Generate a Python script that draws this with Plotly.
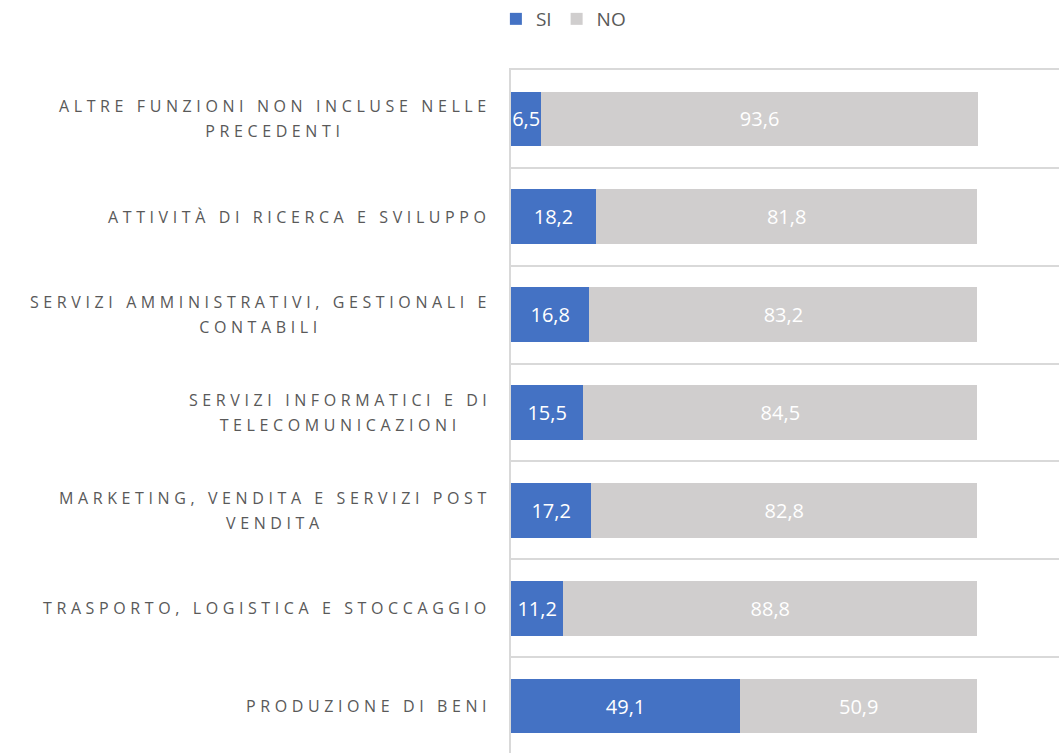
"""Funzioni esternalizzate: quota SI / NO per area aziendale."""

import plotly.graph_objects as go

# categories from bottom to top, as drawn on the chart
CATEGORIES = [
    "PRODUZIONE DI BENI",
    "TRASPORTO, LOGISTICA E STOCCAGGIO",
    "MARKETING, VENDITA E SERVIZI POST VENDITA",
    "SERVIZI INFORMATICI E DI TELECOMUNICAZIONI",
    "SERVIZI AMMINISTRATIVI, GESTIONALI E CONTABILI",
    "ATTIVITÀ DI RICERCA E SVILUPPO",
    "ALTRE FUNZIONI NON INCLUSE NELLE PRECEDENTI",
]
# wrapped versions of the labels, as shown on the axis
LABEL_LINES = [
    ["PRODUZIONE DI BENI"],
    ["TRASPORTO, LOGISTICA E STOCCAGGIO"],
    ["MARKETING, VENDITA E SERVIZI POST", "VENDITA"],
    ["SERVIZI INFORMATICI E DI", "TELECOMUNICAZIONI"],
    ["SERVIZI AMMINISTRATIVI, GESTIONALI E", "CONTABILI"],
    ["ATTIVITÀ DI RICERCA E SVILUPPO"],
    ["ALTRE FUNZIONI NON INCLUSE NELLE", "PRECEDENTI"],
]
SI_VALUES = [49.1, 11.2, 17.2, 15.5, 16.8, 18.2, 6.5]
NO_VALUES = [50.9, 88.8, 82.8, 84.5, 83.2, 81.8, 93.6]

SI_COLOR = "#4472C4"
NO_COLOR = "#D0CECE"
TEXT_COLOR = "#595959"
GRID_COLOR = "#D9D9D9"
FONT = "Open Sans"

fig = go.Figure()
for name, values, color in [("SI", SI_VALUES, SI_COLOR), ("NO", NO_VALUES, NO_COLOR)]:
    fig.add_trace(
        go.Bar(
            y=CATEGORIES,
            x=values,
            name=name,
            orientation="h",
            marker={"color": color, "line": {"width": 0}},
            width=0.56,
            texttemplate="%{x:.1f}",
            textposition="inside",
            insidetextanchor="middle",
            textangle=0,
            constraintext="none",
            textfont={"family": FONT, "size": 20, "color": "white"},
        )
    )

# category labels: letter-spaced, multi-line labels centred
# (outer font size sets the line pitch, inner span the glyph size)
for category, lines in zip(CATEGORIES, LABEL_LINES):
    text = "<br>".join(
        f'<span style="font-size:16px;letter-spacing:4.6px">{line}</span>' for line in lines
    )
    fig.add_annotation(
        x=0,
        xref="paper",
        y=category,
        yref="y",
        text=text,
        showarrow=False,
        xanchor="right",
        yanchor="middle",
        align="center",
        xshift=-18,
        font={"family": FONT, "size": 19, "color": TEXT_COLOR},
    )

fig.update_layout(
    width=1059,
    height=753,
    barmode="stack",
    separators=",.",
    plot_bgcolor="white",
    paper_bgcolor="white",
    margin={"l": 511, "r": 0, "t": 70, "b": 0},
    legend={
        "orientation": "h",
        "xref": "container",
        "yref": "container",
        "x": 0.532,
        "xanchor": "center",
        "y": 1.0,
        "yanchor": "top",
        "font": {"family": FONT, "size": 19, "color": TEXT_COLOR},
        "itemwidth": 30,
        "traceorder": "normal",
    },
    xaxis={
        "range": [0, 117.5],
        "side": "top",
        "showgrid": False,
        "zeroline": False,
        "showticklabels": False,
        "ticks": "",
        "showline": True,
        "linecolor": GRID_COLOR,
        "linewidth": 1.5,
    },
    yaxis={
        "type": "category",
        "range": [-0.48, 6.5],
        "tickson": "boundaries",
        "showgrid": True,
        "gridcolor": GRID_COLOR,
        "gridwidth": 1.5,
        "showticklabels": False,
        "ticks": "",
        "showline": True,
        "linecolor": GRID_COLOR,
        "linewidth": 2,
        "zeroline": False,
    },
)

fig.write_html(
    "out.html",
    config={"displayModeBar": False},
    post_script="document.body.style.margin = '0';",
)
